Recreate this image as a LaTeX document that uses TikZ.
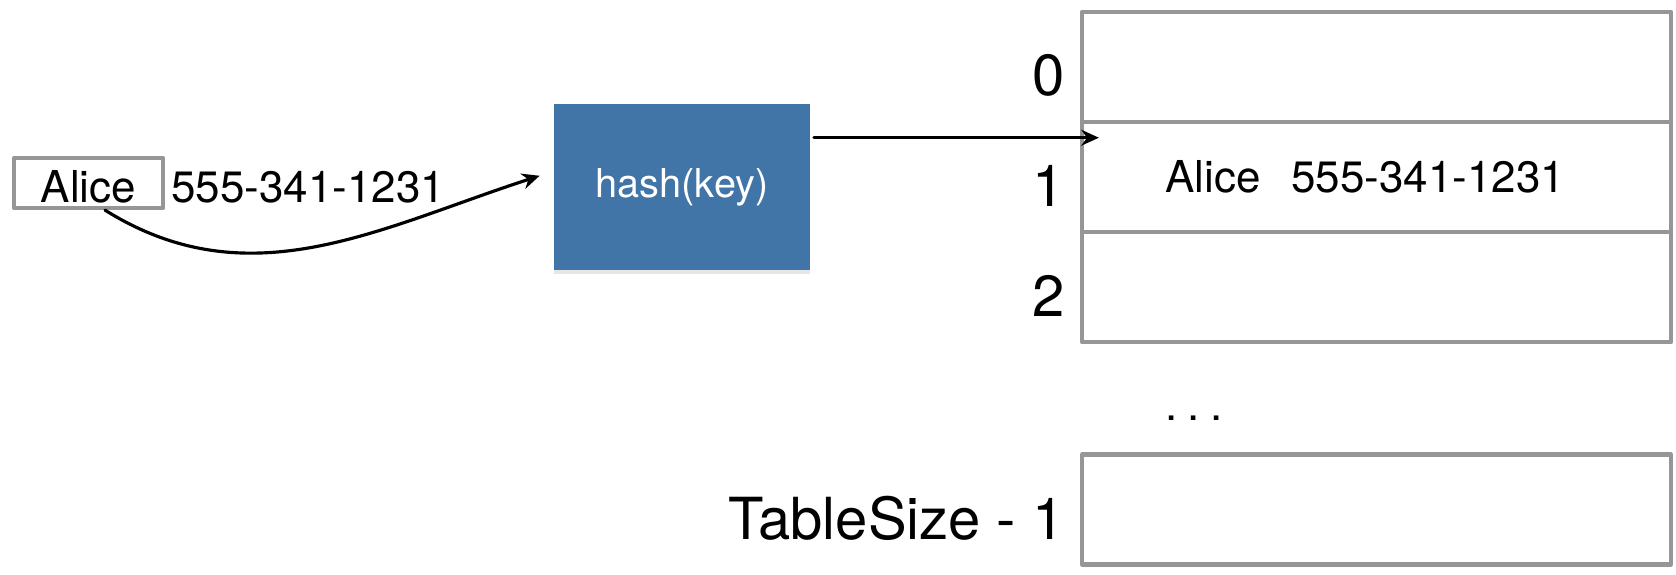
\documentclass[tikz,border=0pt]{standalone}
\usepackage{fontspec}
\setmainfont{TeX Gyre Heros}
\usetikzlibrary{positioning,arrows.meta,shadows}
\definecolor{hashblue}{RGB}{65,117,167}
\definecolor{boxgray}{RGB}{150,150,150}
\tikzset{
	txt/.style={inner sep=0pt, font=\fontsize{25}{30}\selectfont},
	idx/.style={inner sep=0pt, font=\fontsize{33}{40}\selectfont},
	cell/.style={txt, draw=boxgray, line width=2.4pt, minimum width=11.78cm, minimum height=2.2cm},
	keybox/.style={txt, draw=boxgray, line width=2.4pt, minimum width=2.98cm, minimum height=1cm, text height=0.8cm, text depth=0.01cm},
	hashbox/.style={fill=hashblue, minimum width=5.12cm, minimum height=3.32cm, text=white, font=\fontsize{22.6}{28}\selectfont, drop shadow={shadow xshift=0pt, shadow yshift=-2pt, opacity=0.2}},
}
\begin{document}
\begin{tikzpicture}[>={Stealth[length=10pt,width=9pt]}, line cap=round, line join=round]
			\useasboundingbox (0,0) rectangle (33.52,11.48);
			% the key and its value
			\node[keybox] (akey) at (1.77,7.82) {Alice};
			\node[txt, base right=0.12cm of akey] (aval) {555-341-1231};
			% hash function
			\node[hashbox] (hash) at (13.64,7.74) {hash(key)};
			% table slots
			\foreach \i/\txt in {0/{},1/{Alice\hspace{0.7em}555-341-1231\kern0.45cm},2/{}}{
				\node[cell] (row\i) at (27.53,{10.14-2.2*\i}) {\txt};
				\node[idx, left=0.3cm of row\i, yshift=-5pt] (lab\i) {\i};
			}
			\node[txt] (dots) at (23.88,3.12) {.\hspace{0.23em}.\hspace{0.23em}.};
			\node[cell] (rowlast) at (27.53,1.29) {};
			\node[idx, left=0.3cm of rowlast, yshift=-5pt] (lablast) {TableSize - 1};
			% arrows
			\draw[->, line width=1.8pt] ([xshift=0.33cm]akey.south) to[out=-32,in=198] ([xshift=-0.28cm]hash.175);
			\draw[->, line width=1.8pt] ([xshift=2pt]hash.21) -- ([xshift=0.38cm]row1.west |- hash.21);
		\end{tikzpicture}
\end{document}
